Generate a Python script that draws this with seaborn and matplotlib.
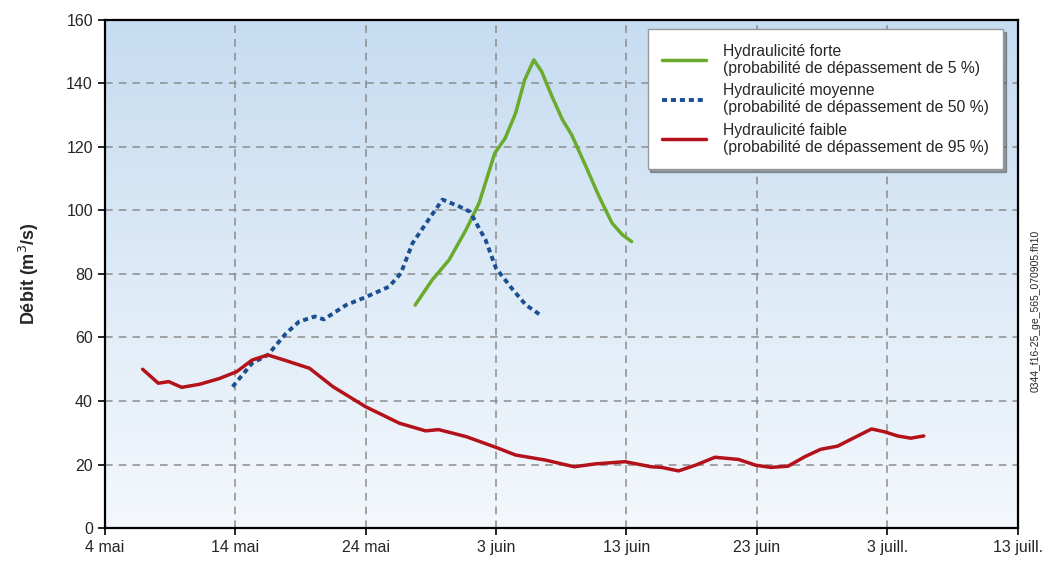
import numpy as np
import pandas as pd
import seaborn as sns
import matplotlib.pyplot as plt
from matplotlib.colors import LinearSegmentedColormap

# days counted from 4 mai
forte_jour = [23.8, 25.1, 26.4, 27.7, 28.7, 29.3, 29.9, 30.7, 31.5, 32.2, 32.9, 33.5,
              34.3, 35.1, 35.8, 36.9, 37.9, 38.9, 39.7, 40.4]
forte_debit = [70.2, 78.1, 84.4, 93.9, 102.3, 110.1, 118, 122.7, 130.6, 141.1, 147.4, 143.7,
               135.8, 128.5, 123.8, 113.8, 104.4, 96, 92.3, 90.2]

moyenne_jour = [9.8, 11.3, 12.5, 13.9, 14.9, 16.1, 16.8, 18.5, 20.0, 21.8, 22.7, 23.6,
                24.9, 25.9, 27.2, 28.0, 29.2, 30.0, 31.3, 32.3, 33.4]
moyenne_debit = [44.5, 51.9, 54.5, 61.3, 65, 66.6, 65.7, 70.2, 72.7, 76, 80.2, 89.7,
                 97.5, 103.4, 101.2, 99.6, 90.7, 81.8, 75, 70.2, 67.1]

faible_jour = [2.9, 4.1, 4.9, 5.9, 7.3, 8.8, 10.1, 11.3, 12.5, 13.9, 15.7, 17.5, 20.0,
               22.6, 24.6, 25.6, 27.7, 30.0, 31.5, 33.8, 36.0, 37.6, 39.9, 41.9, 42.7,
               44.0, 45.3, 46.8, 48.6, 49.9, 51.1, 52.4, 53.7, 54.9, 56.2, 57.2, 58.8,
               59.8, 60.8, 61.8, 62.8]
faible_debit = [50, 45.6, 46.1, 44.3, 45.3, 47.1, 49.2, 52.9, 54.5, 52.7, 50.3, 44.5, 38.2,
                33, 30.6, 31.0, 28.8, 25.4, 23, 21.4, 19.3, 20.2, 20.9, 19.3, 19.1,
                18, 19.8, 22.3, 21.6, 19.8, 19.1, 19.5, 22.5, 24.8, 25.8, 27.9, 31.2,
                30.3, 29.0, 28.3, 29.0]

x_ticks = [0, 10, 20, 30, 40, 50, 60, 70]
x_labels = ["4 mai", "14 mai", "24 mai", "3 juin", "13 juin", "23 juin", "3 juill.", "13 juill."]
y_ticks = [0, 20, 40, 60, 80, 100, 120, 140, 160]

sns.set_style("white")
plt.rcParams['font.family'] = ['Liberation Sans', 'DejaVu Sans']

fig = plt.figure(figsize=(10.48, 5.66), dpi=100)
ax = fig.add_axes([0.100, 0.067, 0.871, 0.898])

# background gradient, light at bottom, blue at top
grad = np.linspace(0, 1, 256).reshape(-1, 1)
cmap = LinearSegmentedColormap.from_list("bg", ["#f4f8fc", "#c6dcf1"])
ax.imshow(grad, aspect="auto", cmap=cmap, origin="lower",
          extent=[0, 70, 0, 160], zorder=0)

sns.lineplot(x=forte_jour, y=forte_debit, ax=ax, color="#6aab2e", linewidth=2.5,
             label="Hydraulicité forte\n(probabilité de dépassement de 5 %)", zorder=3)
sns.lineplot(x=moyenne_jour, y=moyenne_debit, ax=ax, color="#1b4f8f", linewidth=2.8,
             linestyle=(0, (1.3, 1.0)),
             label="Hydraulicité moyenne\n(probabilité de dépassement de 50 %)", zorder=3)
sns.lineplot(x=faible_jour, y=faible_debit, ax=ax, color="#b3121b", linewidth=2.5,
             label="Hydraulicité faible\n(probabilité de dépassement de 95 %)", zorder=3)
for ln in ax.lines:
    ln.set_solid_joinstyle("round")
    ln.set_solid_capstyle("round")

ax.set_xlim(0, 70)
ax.set_ylim(0, 160)
ax.set_xticks(x_ticks)
ax.set_xticklabels(x_labels)
ax.set_yticks(y_ticks)
ax.tick_params(axis="both", labelsize=11.5, direction="out", length=5, width=1.2,
               color="black", left=True, bottom=True)
ax.set_axisbelow(True)
ax.grid(True, linestyle=(0, (5, 4)), color="#8c8c8c", linewidth=1.1)
for s in ax.spines.values():
    s.set_visible(True)
    s.set_color("black")
    s.set_linewidth(1.6)
    s.set_zorder(5)

ax.set_xlabel("")
ax.set_ylabel("Débit (m$^3$/s)", fontsize=13, fontweight="bold", labelpad=18)

leg = ax.legend(loc="upper right", bbox_to_anchor=(0.984, 0.981), fontsize=11.3,
                frameon=True, fancybox=False, shadow=True, handlelength=2.8,
                handletextpad=1.1, borderpad=0.9, labelspacing=0.45,
                borderaxespad=0)
leg.get_frame().set_edgecolor("#999999")
leg.get_frame().set_facecolor("white")
leg.get_frame().set_alpha(1)
leg.set_zorder(6)

fig.text(0.988, 0.45, "0344_f16-25_ge_565_070905.fh10", rotation=90,
         fontsize=7.5, ha="center", va="center")

fig.savefig("out.png", dpi=100)
